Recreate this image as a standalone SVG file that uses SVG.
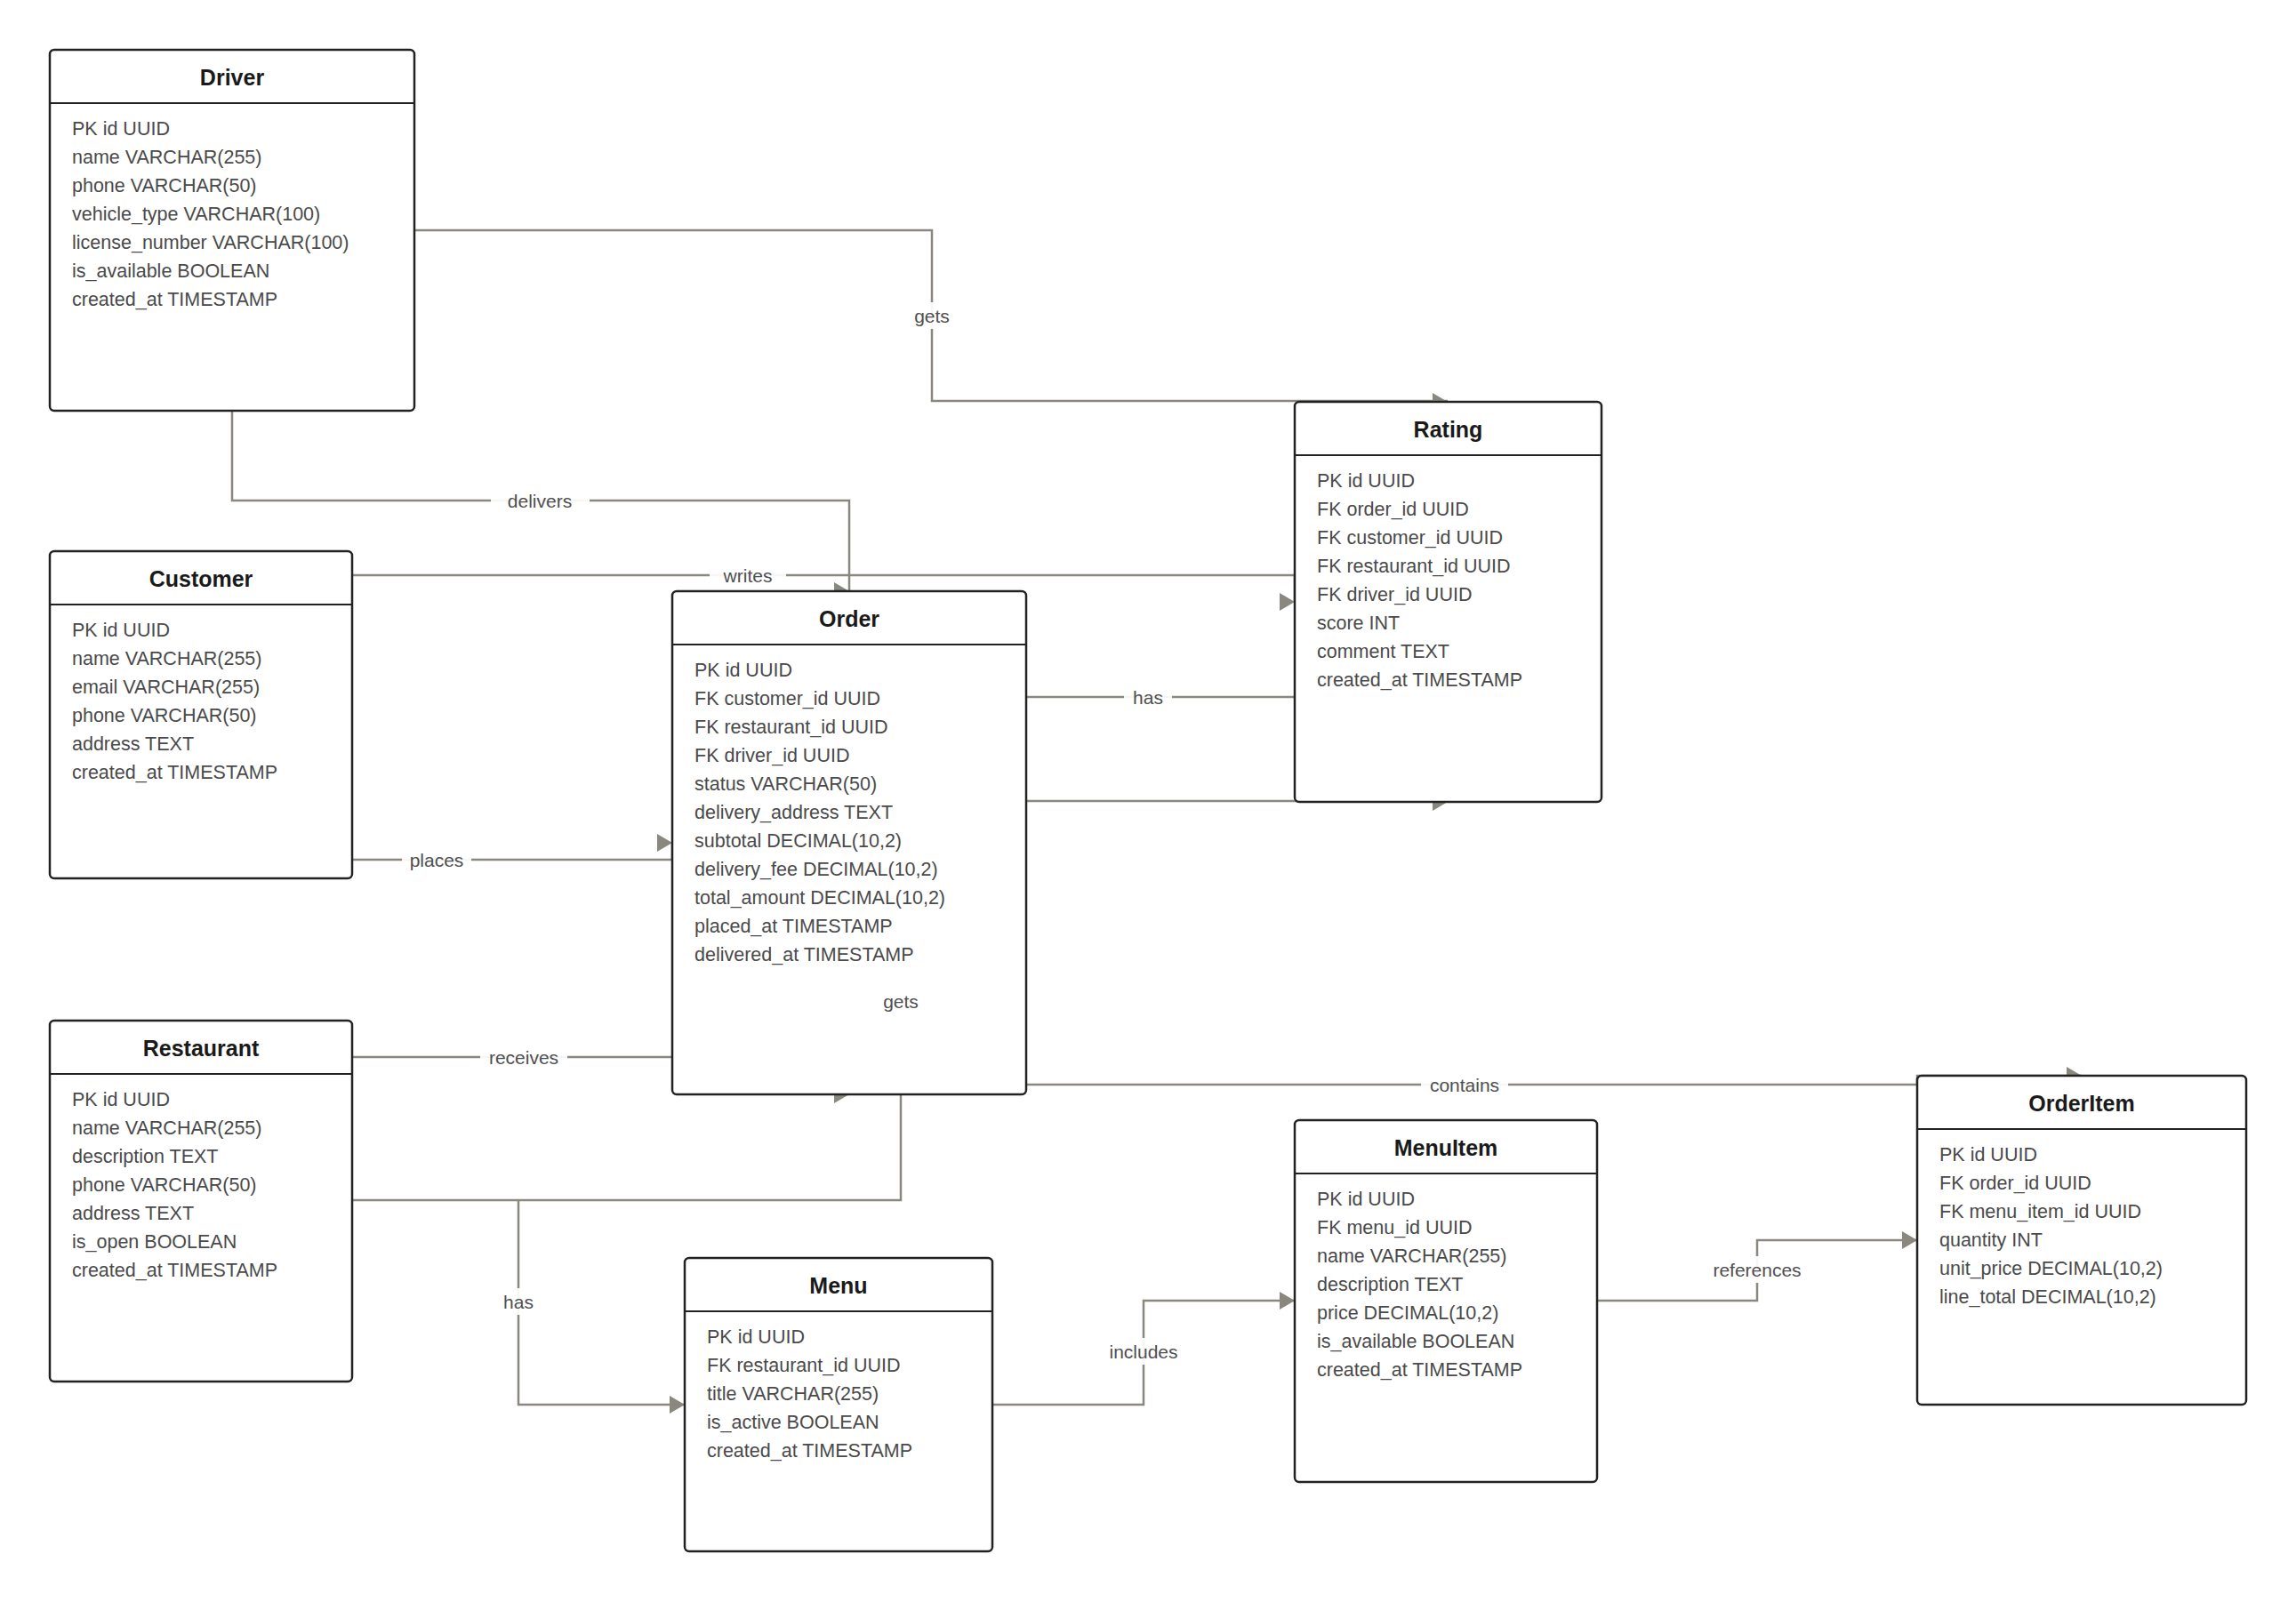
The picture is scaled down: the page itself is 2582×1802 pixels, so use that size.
<svg xmlns="http://www.w3.org/2000/svg" xmlns:xlink="http://www.w3.org/1999/xlink" width="2582" height="1802" viewBox="0 0 2582 1802">
<style>
.box{fill:#ffffff;stroke:#222222;stroke-width:2.5}
.sep{stroke:#222222;stroke-width:2}
.title{font-family:"Liberation Sans",Arial,sans-serif;font-size:25px;font-weight:bold;fill:#1a1a1a;text-anchor:middle}
.row{font-family:"Liberation Sans",Arial,sans-serif;font-size:21.5px;fill:#4a4a4a}
.conn{fill:none;stroke:#8a877f;stroke-width:2.5}
.ah{fill:#8a877f}
.lbg{fill:#ffffff;fill-opacity:0.92}
.lbl{font-family:"Liberation Sans",Arial,sans-serif;font-size:21px;fill:#4f4f4f;text-anchor:middle;dominant-baseline:central}
</style>
<defs>
<path id="ah" d="M0,0 L-17,-10 L-17,10 Z"/>
</defs>
<rect x="0" y="0" width="2582" height="1802" fill="#ffffff"/>
<g id="connectors">
<path class="conn" d="M466,259 H1048 V451 H1628"/>
<path class="conn" d="M261,462 V563 H955 V665"/>
<path class="conn" d="M396,647 H1456 V677"/>
<path class="conn" d="M396,967 H756 V948"/>
<path class="conn" d="M396,1189 H756"/>
<path class="conn" d="M396,1350 H1013 V1231"/>
<path class="conn" d="M583,1350 V1580 H770"/>
<path class="conn" d="M1154,784 H1456"/>
<path class="conn" d="M1154,901 H1628"/>
<path class="conn" d="M1154,1220 H2156 V1210 H2341"/>
<path class="conn" d="M1116,1580 H1286 V1463 H1456"/>
<path class="conn" d="M1796,1463 H1976 V1395 H2156"/>
<use xlink:href="#ah" class="ah" transform="translate(1628,452)"/>
<use xlink:href="#ah" class="ah" transform="translate(955,665)"/>
<use xlink:href="#ah" class="ah" transform="translate(1456,677)"/>
<use xlink:href="#ah" class="ah" transform="translate(756,948)"/>
<use xlink:href="#ah" class="ah" transform="translate(1628,902)"/>
<use xlink:href="#ah" class="ah" transform="translate(955,1231)"/>
<use xlink:href="#ah" class="ah" transform="translate(2341,1210)"/>
<use xlink:href="#ah" class="ah" transform="translate(770,1580)"/>
<use xlink:href="#ah" class="ah" transform="translate(1456,1463)"/>
<use xlink:href="#ah" class="ah" transform="translate(2156,1395)"/>
</g>
<g id="node-driver">
<rect class="box" x="56" y="56" width="410" height="406" rx="5"/>
<line class="sep" x1="56" y1="116" x2="466" y2="116"/>
<text class="title" x="261" y="96">Driver</text>
<text class="row" x="81" y="152">PK id UUID</text>
<text class="row" x="81" y="184">name VARCHAR(255)</text>
<text class="row" x="81" y="216">phone VARCHAR(50)</text>
<text class="row" x="81" y="248">vehicle_type VARCHAR(100)</text>
<text class="row" x="81" y="280">license_number VARCHAR(100)</text>
<text class="row" x="81" y="312">is_available BOOLEAN</text>
<text class="row" x="81" y="344">created_at TIMESTAMP</text>
</g>
<g id="node-customer">
<rect class="box" x="56" y="620" width="340" height="368" rx="5"/>
<line class="sep" x1="56" y1="680" x2="396" y2="680"/>
<text class="title" x="226" y="660">Customer</text>
<text class="row" x="81" y="716">PK id UUID</text>
<text class="row" x="81" y="748">name VARCHAR(255)</text>
<text class="row" x="81" y="780">email VARCHAR(255)</text>
<text class="row" x="81" y="812">phone VARCHAR(50)</text>
<text class="row" x="81" y="844">address TEXT</text>
<text class="row" x="81" y="876">created_at TIMESTAMP</text>
</g>
<g id="node-order">
<rect class="box" x="756" y="665" width="398" height="566" rx="5"/>
<line class="sep" x1="756" y1="725" x2="1154" y2="725"/>
<text class="title" x="955" y="705">Order</text>
<text class="row" x="781" y="761">PK id UUID</text>
<text class="row" x="781" y="793">FK customer_id UUID</text>
<text class="row" x="781" y="825">FK restaurant_id UUID</text>
<text class="row" x="781" y="857">FK driver_id UUID</text>
<text class="row" x="781" y="889">status VARCHAR(50)</text>
<text class="row" x="781" y="921">delivery_address TEXT</text>
<text class="row" x="781" y="953">subtotal DECIMAL(10,2)</text>
<text class="row" x="781" y="985">delivery_fee DECIMAL(10,2)</text>
<text class="row" x="781" y="1017">total_amount DECIMAL(10,2)</text>
<text class="row" x="781" y="1049">placed_at TIMESTAMP</text>
<text class="row" x="781" y="1081">delivered_at TIMESTAMP</text>
</g>
<g id="node-rating">
<rect class="box" x="1456" y="452" width="345" height="450" rx="5"/>
<line class="sep" x1="1456" y1="512" x2="1801" y2="512"/>
<text class="title" x="1628.5" y="492">Rating</text>
<text class="row" x="1481" y="548">PK id UUID</text>
<text class="row" x="1481" y="580">FK order_id UUID</text>
<text class="row" x="1481" y="612">FK customer_id UUID</text>
<text class="row" x="1481" y="644">FK restaurant_id UUID</text>
<text class="row" x="1481" y="676">FK driver_id UUID</text>
<text class="row" x="1481" y="708">score INT</text>
<text class="row" x="1481" y="740">comment TEXT</text>
<text class="row" x="1481" y="772">created_at TIMESTAMP</text>
</g>
<g id="node-restaurant">
<rect class="box" x="56" y="1148" width="340" height="406" rx="5"/>
<line class="sep" x1="56" y1="1208" x2="396" y2="1208"/>
<text class="title" x="226" y="1188">Restaurant</text>
<text class="row" x="81" y="1244">PK id UUID</text>
<text class="row" x="81" y="1276">name VARCHAR(255)</text>
<text class="row" x="81" y="1308">description TEXT</text>
<text class="row" x="81" y="1340">phone VARCHAR(50)</text>
<text class="row" x="81" y="1372">address TEXT</text>
<text class="row" x="81" y="1404">is_open BOOLEAN</text>
<text class="row" x="81" y="1436">created_at TIMESTAMP</text>
</g>
<g id="node-menu">
<rect class="box" x="770" y="1415" width="346" height="330" rx="5"/>
<line class="sep" x1="770" y1="1475" x2="1116" y2="1475"/>
<text class="title" x="943" y="1455">Menu</text>
<text class="row" x="795" y="1511">PK id UUID</text>
<text class="row" x="795" y="1543">FK restaurant_id UUID</text>
<text class="row" x="795" y="1575">title VARCHAR(255)</text>
<text class="row" x="795" y="1607">is_active BOOLEAN</text>
<text class="row" x="795" y="1639">created_at TIMESTAMP</text>
</g>
<g id="node-menuitem">
<rect class="box" x="1456" y="1260" width="340" height="407" rx="5"/>
<line class="sep" x1="1456" y1="1320" x2="1796" y2="1320"/>
<text class="title" x="1626" y="1300">MenuItem</text>
<text class="row" x="1481" y="1356">PK id UUID</text>
<text class="row" x="1481" y="1388">FK menu_id UUID</text>
<text class="row" x="1481" y="1420">name VARCHAR(255)</text>
<text class="row" x="1481" y="1452">description TEXT</text>
<text class="row" x="1481" y="1484">price DECIMAL(10,2)</text>
<text class="row" x="1481" y="1516">is_available BOOLEAN</text>
<text class="row" x="1481" y="1548">created_at TIMESTAMP</text>
</g>
<g id="node-orderitem">
<rect class="box" x="2156" y="1210" width="370" height="370" rx="5"/>
<line class="sep" x1="2156" y1="1270" x2="2526" y2="1270"/>
<text class="title" x="2341" y="1250">OrderItem</text>
<text class="row" x="2181" y="1306">PK id UUID</text>
<text class="row" x="2181" y="1338">FK order_id UUID</text>
<text class="row" x="2181" y="1370">FK menu_item_id UUID</text>
<text class="row" x="2181" y="1402">quantity INT</text>
<text class="row" x="2181" y="1434">unit_price DECIMAL(10,2)</text>
<text class="row" x="2181" y="1466">line_total DECIMAL(10,2)</text>
</g>
<g id="connector-labels">
<rect class="lbg" x="1024" y="340" width="48" height="30"/>
<text class="lbl" x="1048" y="355">gets</text>
<rect class="lbg" x="552" y="549" width="111" height="28"/>
<text class="lbl" x="607" y="563">delivers</text>
<rect class="lbg" x="798" y="633" width="86" height="28"/>
<text class="lbl" x="841" y="647">writes</text>
<rect class="lbg" x="452" y="953" width="78" height="28"/>
<text class="lbl" x="491" y="967">places</text>
<rect class="lbg" x="540" y="1175" width="98" height="28"/>
<text class="lbl" x="589" y="1189">receives</text>
<text class="lbl" x="1013" y="1126">gets</text>
<rect class="lbg" x="561" y="1449" width="44" height="30"/>
<text class="lbl" x="583" y="1464">has</text>
<rect class="lbg" x="1264" y="770" width="54" height="28"/>
<text class="lbl" x="1291" y="784">has</text>
<rect class="lbg" x="1598" y="1206" width="98" height="28"/>
<text class="lbl" x="1647" y="1220">contains</text>
<rect class="lbg" x="1244" y="1505" width="84" height="30"/>
<text class="lbl" x="1286" y="1520">includes</text>
<rect class="lbg" x="1922" y="1413" width="108" height="30"/>
<text class="lbl" x="1976" y="1428">references</text>
</g>
</svg>
